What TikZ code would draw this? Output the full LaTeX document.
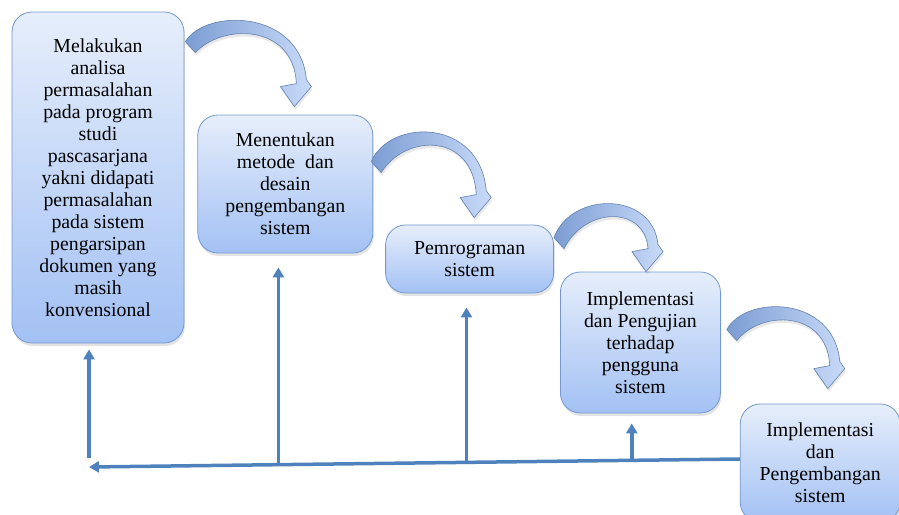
\documentclass[tikz,border=0pt]{standalone}
\usepackage{fontspec}
\setmainfont{Liberation Serif}
\usetikzlibrary{positioning}
\usetikzlibrary{calc}
\usetikzlibrary{arrows.meta}
\usetikzlibrary{shadows}

\definecolor{boxline}{HTML}{7399D0}
\definecolor{boxtop}{HTML}{E6EEFB}
\definecolor{boxbottom}{HTML}{A3C1F4}
\definecolor{flowblue}{HTML}{4F81BD}
\definecolor{bendleft}{HTML}{7C9DD3}
\definecolor{bendright}{HTML}{C8DAF8}

\tikzset{
  stepbox/.style={draw=boxline, line width=0.8pt, rounded corners=20pt,
    top color=boxtop, bottom color=boxbottom, align=center, inner sep=0pt,
    font=\fontsize{19.8}{22}\selectfont,
    drop shadow={opacity=0.22, shadow xshift=1pt, shadow yshift=-3pt}},
  flowline/.style={draw=flowblue, line width=3.5pt,
    -{Triangle[length=10pt,width=11pt]}},
  bendarrow/.style={draw=boxline!85!black, line width=0.6pt,
    left color=bendleft, right color=bendright,
    drop shadow={opacity=0.18, shadow xshift=1pt, shadow yshift=-3pt}},
}

% #1 tail point, #2 width, #3 rise above tail, #4 drop of the tip
\newcommand\curvedstep[4]{%
  \path[bendarrow, shift={#1}]
    (0,0) .. controls ({0.16*#2},{-(#3+0.125*(#4-27))/0.75})
      and ({0.93*#2},{-(#3+0.125*(#4-27))/0.75}) .. ({#2-2},{#4-27})
    -- ({#2+3},{#4-20}) -- ({#2-14},#4) -- ({#2-28},{#4-20})
    -- ({#2-12},{#4-23})
    .. controls ({#2-15},{(13-#3-0.125*(#4-22)-1.25)/0.75})
      and ({0.3*#2},{(13-#3-0.125*(#4-22)-1.25)/0.75}) .. (10,11)
    -- cycle;}

\begin{document}
\begin{tikzpicture}[x=1pt, y=-1pt]
  \useasboundingbox (0,0) rectangle (899,514);

  \node[stepbox, minimum width=172pt, minimum height=331pt] (b1) at (98,177.5)
    {Melakukan\\ analisa\\ permasalahan\\ pada program\\ studi\\ pascasarjana\\
     yakni didapati\\ permasalahan\\ pada sistem\\ pengarsipan\\ dokumen yang\\
     masih\\ konvensional};
  \node[stepbox, minimum width=175pt, minimum height=138pt,
    below right=103pt and 13pt of b1.north east] (b2)
    {Menentukan\\ metode\ \ dan\\ desain\\ pengembangan\\ sistem};
  \node[stepbox, minimum width=168pt, minimum height=68pt,
    below right=110pt and 12pt of b2.north east] (b3)
    {Pemrograman\\ sistem};
  \node[stepbox, minimum width=160pt, minimum height=141pt,
    below right=47pt and 6pt of b3.north east] (b4)
    {Implementasi\\ dan Pengujian\\ terhadap\\ pengguna\\ sistem};
  \node[stepbox, minimum width=160pt, minimum height=118pt,
    below right=132pt and 19pt of b4.north east] (b5)
    {Implementasi\\ dan\\ Pengembangan\\ sistem};

  % curved arrows between the steps
  \curvedstep{($(b1.north east)+(1,30)$)}{123}{20}{65}
  \curvedstep{($(b2.north east)+(-2,47)$)}{117}{29}{56}
  \curvedstep{($(b3.north east)+(0,13)$)}{106}{34}{34}
  \curvedstep{($(b4.north east)+(6,58)$)}{115}{22}{59}

  % feedback line
  \coordinate (r) at ($(b5.west)+(0,-4)$);
  \coordinate (l) at (89,467);
  \coordinate (c1) at (89,458);
  \coordinate (j2) at ($(l)!0.291!(r)$);
  \coordinate (j3) at ($(l)!0.580!(r)$);
  \coordinate (j4) at ($(l)!0.834!(r)$);

  \draw[flowline] (r) -- (l);
  \draw[flowline] (c1) -- ([yshift=-6pt]c1 |- b1.south);
  \draw[flowline] (j2) -- ([yshift=-14pt]j2 |- b2.south);
  \draw[flowline] (j3) -- ([yshift=-14pt]j3 |- b3.south);
  \draw[flowline] (j4) -- ([yshift=-10pt]j4 |- b4.south);
\end{tikzpicture}
\end{document}
